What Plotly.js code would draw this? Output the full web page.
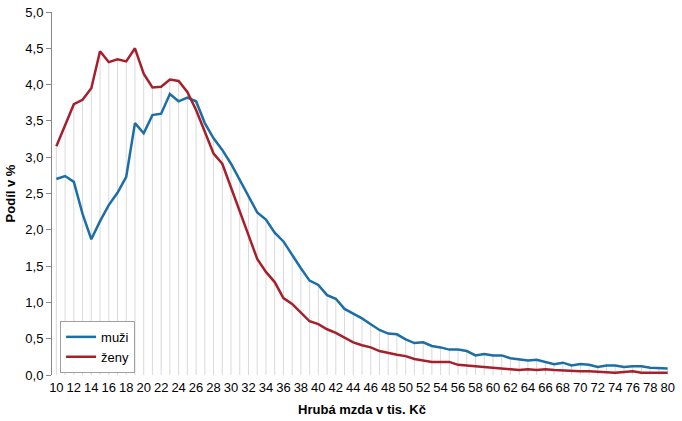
<!DOCTYPE html>
<html>
<head>
<meta charset="utf-8">
<script src="https://cdn.plot.ly/plotly-3.0.1.min.js"></script>
<style>html,body{margin:0;padding:0;background:#fff;}#chart{width:682px;height:421px;}</style>
</head>
<body>
<div id="chart"></div>
<script>
// Hrubá mzda v tis. Kč (10 .. 80)
const wages = [];
for (let w = 10; w <= 80; w++) wages.push(w);

const muzi = [2.70,2.74,2.66,2.22,1.87,2.12,2.34,2.51,2.73,3.47,
              3.33,3.58,3.60,3.87,3.77,3.82,3.77,3.47,3.26,3.10,
              2.91,2.69,2.46,2.24,2.14,1.96,1.84,1.65,1.47,1.30,
              1.24,1.10,1.05,0.91,0.85,0.78,0.70,0.62,0.57,0.56,
              0.49,0.44,0.45,0.40,0.38,0.35,0.35,0.33,0.27,0.29,
              0.27,0.27,0.23,0.22,0.20,0.21,0.18,0.15,0.17,0.13,
              0.15,0.14,0.11,0.13,0.13,0.11,0.12,0.12,0.10,0.09,0.09];

const zeny = [3.15,3.45,3.73,3.79,3.95,4.46,4.31,4.35,4.32,4.50,
              4.15,3.96,3.97,4.07,4.05,3.90,3.65,3.35,3.05,2.91,
              2.58,2.25,1.93,1.60,1.42,1.28,1.06,0.98,0.86,0.74,
              0.70,0.63,0.58,0.51,0.45,0.41,0.38,0.33,0.30,0.28,
              0.26,0.22,0.20,0.18,0.18,0.18,0.14,0.13,0.13,0.12,
              0.10,0.09,0.08,0.07,0.08,0.07,0.08,0.07,0.06,0.05,
              0.05,0.05,0.04,0.04,0.03,0.04,0.05,0.03,0.03,0.03,0.03];

const tickLabels = wages.map(w => (w % 2 === 0 ? String(w) : ''));
const tickBounds = [];
for (let w = 9.5; w <= 80.5; w++) tickBounds.push(w);

// drop lines from each point down to the axis
const dropX = [], dropY = [];
wages.forEach((w, i) => {
  dropX.push(w, w, null);
  dropY.push(0, Math.max(muzi[i], zeny[i]), null);
});

const font = "Liberation Sans, Arial, sans-serif";

const traces = [
  {x: dropX, y: dropY, type: 'scatter', mode: 'lines', showlegend: false,
   hoverinfo: 'skip', line: {color: '#d9d9d9', width: 1}},
  {x: wages, y: muzi, name: 'muži', type: 'scatter', mode: 'lines',
   line: {color: '#1c6ea6', width: 2.5}},
  {x: wages, y: zeny, name: 'ženy', type: 'scatter', mode: 'lines',
   line: {color: '#a6202c', width: 2.5}}
];

const layout = {
  width: 682, height: 421,
  margin: {l: 52, r: 10, t: 12, b: 46},
  paper_bgcolor: '#fff', plot_bgcolor: '#fff',
  separators: ', ',
  font: {family: font, size: 13, color: '#000'},
  showlegend: true,
  legend: {x: 0.013, y: 0.149, xanchor: 'left', yanchor: 'top',
           bordercolor: '#a0a0a0', borderwidth: 1, bgcolor: '#fff',
           tracegroupgap: 0, itemwidth: 30,
           font: {family: font, size: 13, color: '#000'}},
  xaxis: {
    range: [9.5, 80.5], tickmode: 'array', tickvals: wages, ticktext: tickLabels,
    ticks: '', showgrid: false, ticklabelstandoff: 3,
    showline: false, zeroline: false,
    tickfont: {family: font, size: 13, color: '#000'},
    title: {text: '<b>Hrubá mzda v tis. Kč</b>', font: {family: font, size: 13, color: '#000'}, standoff: 10}
  },
  xaxis2: {
    overlaying: 'x', range: [9.5, 80.5], tickmode: 'array', tickvals: tickBounds,
    ticks: 'outside', ticklen: 5, tickcolor: '#888', showticklabels: false,
    showgrid: false, zeroline: false, showline: true, linecolor: '#888', linewidth: 1
  },
  yaxis: {
    range: [0, 5], dtick: 0.5, tickformat: '.1f',
    ticks: 'outside', ticklen: 5, tickcolor: '#888',
    showgrid: false, zeroline: false, showline: true, linecolor: '#888', linewidth: 1,
    tickfont: {family: font, size: 13, color: '#000'},
    title: {text: '<b>Podíl v %</b>', font: {family: font, size: 13, color: '#000'}, standoff: 6}
  }
};

Plotly.newPlot('chart', traces, layout, {displayModeBar: false, staticPlot: true});
</script>
</body>
</html>
